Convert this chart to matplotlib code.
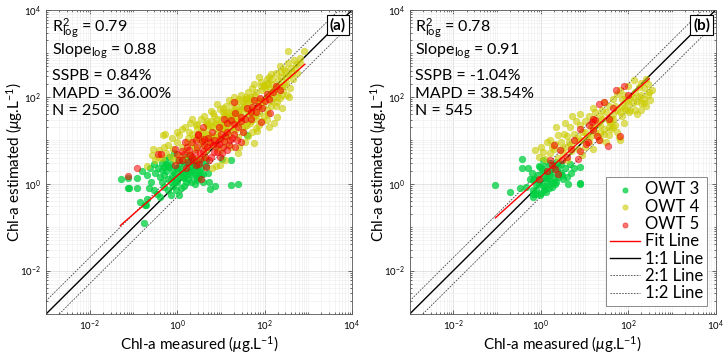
import numpy as np
import matplotlib
matplotlib.use("Agg")
import matplotlib.pyplot as plt
from matplotlib.ticker import LogLocator, FixedLocator, NullFormatter

plt.rcParams['font.family'] = ['Lato', 'DejaVu Sans']
plt.rcParams['mathtext.fontset'] = 'custom'
plt.rcParams['mathtext.rm'] = 'Lato'
plt.rcParams['mathtext.it'] = 'Lato:italic'
plt.rcParams['mathtext.bf'] = 'Lato:bold'

# ---- data, log10 of measured / estimated Chl-a ----
# panel (a)
owt3_a_x = [-1.29, -1.13, -1.135, -0.92, -0.93, -1.11, -0.84, -0.69, -0.73, -0.75, -0.71,
            0.72, 0.76, 0.87, 1.24, 1.40, 1.24, 1.03, 1.60,
            -0.54, -0.35, -0.51, -0.40, -0.54, -0.46, -0.31,
            -0.25, -0.20, -0.15, -0.10, -0.05, 0.00, 0.05, 0.10, 0.15, 0.20, 0.25, 0.30, 0.35, 0.40,
            0.45, 0.50, 0.55, 0.60, -0.22, -0.12, -0.02, 0.08, 0.12, 0.18, 0.28, 0.32, 0.38,
            -0.28, -0.18, -0.08, 0.02, 0.22, 0.42, -0.35, -0.30, -0.15, 0.05, -0.40, -0.60, -0.65,
            -0.70, -0.80, -0.62, -0.45, 0.48, 0.65, 0.70,
            -0.05, 0.10, 0.25, 0.40, 0.55, -0.18, 0.00, 0.15, 0.30, 0.45, 0.35, 0.20, -0.30,
            -0.20, -0.10, 0.00, 0.10, 0.20, 0.30, 0.40, 0.50, -0.05, 0.15, 0.25, 0.35, 0.05,
            -0.15, 0.45, 0.60, 0.55, 0.65, -0.25, -0.35]
owt3_a_y = [0.11, 0.12, -0.09, -0.11, 0.13, -0.10, -0.42, -0.36, -0.49, -0.91, -0.50,
            0.03, -0.12, -0.06, -0.04, -0.01, 0.54, 0.56, 1.12,
            0.45, 0.47, 0.25, 0.16, -0.15, -0.23, -0.07,
            0.30, 0.10, 0.45, -0.05, 0.25, 0.05, 0.40, 0.15, -0.05, 0.30, 0.10, 0.45, 0.20, 0.00,
            0.30, 0.15, 0.35, 0.22, -0.15, 0.18, -0.15, -0.10, 0.55, 0.20, 0.62, 0.05, 0.38,
            0.55, 0.62, 0.70, 0.55, 0.48, 0.55, 0.05, 0.20, -0.25, -0.25, -0.30, 0.05, -0.10,
            0.20, 0.30, 0.35, 0.35, 0.48, 0.40, 0.25,
            0.05, 0.30, 0.22, 0.42, 0.20, 0.38, 0.35, 0.12, 0.32, 0.08, 0.58, 0.62, 0.38,
            0.40, 0.30, 0.35, 0.25, 0.05, 0.30, 0.22, 0.30, 0.12, 0.45, 0.55, 0.45, 0.18,
            0.05, 0.12, 0.05, 0.50, 0.55, 0.45, 0.32]

owt4_a_x = [-0.69, -0.58, -0.50, -0.45, -0.35, -0.25, -0.15, -0.05, 0.05, 0.15, 0.30, 0.45, 0.62,
            0.80, 0.88, 0.99, 1.10, 1.38,
            -0.55, -0.42, -0.31, -0.20, -0.10, 0.00, 0.10, 0.20, 0.32, 0.42, 0.55, 0.65, 0.75, 0.88,
            0.98, 1.10, 1.22, 1.41, 1.55, 1.75,
            -0.32, -0.27, -0.12, 0.00, 0.04, 0.12, 0.19, 0.25, 0.35, 0.45, 0.52, 0.60, 0.70, 0.78,
            0.90, 1.00, 1.08, 1.18, 1.28, 1.38, 1.50, 1.62, 1.72, 1.83, 1.80, 2.09,
            0.35, 0.45, 0.55, 0.61, 0.68, 0.77, 0.85, 0.92, 1.00, 1.08, 1.15, 1.25, 1.35, 1.42,
            1.52, 1.60, 1.70, 1.78, 1.87, 1.95, 2.06, 2.22, 2.29, 1.65,
            0.77, 0.92, 0.98, 1.05, 1.12, 1.19, 1.25, 1.35, 1.45, 1.52, 1.60, 1.70, 1.78, 1.88,
            1.95, 2.05, 2.15, 2.29, 2.40, 1.40,
            1.30, 1.45, 1.55, 1.62, 1.70, 1.80, 1.88, 1.95, 2.05, 2.12, 2.20, 2.30, 2.40, 2.52,
            2.56, 2.00, 1.72,
            1.75, 1.87, 1.91, 1.98, 2.05, 2.14, 2.18, 2.25, 2.30, 2.37, 2.44, 2.48, 2.10, 2.40,
            2.45, 2.53, 2.60, 2.67, 2.72, 2.53, 2.89, 2.80, 2.35,
            0.62, 0.72, 0.82, 0.95, 1.05, 1.15, 1.28, 1.40, 1.48, 1.58, 1.68, 1.85, 1.98, 2.08,
            2.18, 2.28, 0.40, 0.50, 0.65, 0.85, 1.20, 1.32, 1.02, 1.12,
            0.22, 0.28, 0.38, 0.48, 0.42, 0.30,
            0.55, 0.62, 0.68, 0.72, 0.78, 0.82, 0.88, 0.92, 0.96, 0.58, 0.66, 0.86,
            1.02, 1.05, 1.10, 1.14, 1.18, 1.22, 1.26, 1.30, 1.34, 1.38, 1.42, 1.46, 1.48, 1.12,
            1.24, 1.36,
            1.52, 1.55, 1.58, 1.62, 1.66, 1.68, 1.72, 1.76, 1.80, 1.84, 1.88, 1.92, 1.96, 1.98,
            1.58, 1.74,
            2.02, 2.05, 2.08, 2.12, 2.15, 2.18, 2.22, 2.25, 2.28, 2.32, 2.35, 2.38, 2.42, 2.46,
            2.50, 2.55, 2.58, 2.62, 2.66, 2.70, 2.75, 2.82]
owt4_a_y = [0.41, 0.66, 0.55, 0.62, 0.60, 0.70, 0.62, 0.55, 0.66, 0.60, 0.68, 0.58, 0.62,
            0.35, 0.40, 0.43, 0.55, 0.70,
            0.80, 0.78, 0.85, 0.90, 0.80, 0.95, 0.85, 0.78, 0.92, 0.80, 0.95, 0.78, 0.90, 0.85,
            0.78, 0.92, 0.85, 0.85, 0.95, 0.94,
            1.11, 1.15, 1.05, 1.20, 1.11, 1.25, 1.30, 1.05, 1.15, 1.25, 1.05, 1.18, 1.28, 1.10,
            1.20, 1.05, 1.25, 1.12, 1.22, 1.08, 1.18, 1.10, 1.19, 1.21, 1.28, 1.31,
            1.50, 1.38, 1.48, 1.57, 1.35, 1.45, 1.55, 1.38, 1.48, 1.58, 1.35, 1.45, 1.55, 1.40,
            1.50, 1.35, 1.45, 1.55, 1.36, 1.45, 1.46, 1.39, 1.54, 1.58,
            1.67, 1.83, 1.72, 1.65, 1.80, 1.92, 1.70, 1.78, 1.68, 1.85, 1.72, 1.82, 1.65, 1.75,
            1.88, 1.70, 1.80, 1.88, 1.75, 1.90,
            2.00, 2.05, 1.95, 2.12, 2.00, 2.10, 1.95, 2.15, 2.02, 2.18, 1.98, 2.10, 2.05, 2.04,
            2.00, 2.20, 2.20,
            2.30, 2.46, 2.34, 2.25, 2.40, 2.53, 2.30, 2.55, 2.38, 2.57, 2.30, 2.45, 2.45, 2.25,
            2.65, 2.78, 2.67, 2.85, 2.75, 3.05, 3.05, 2.90, 2.70,
            1.02, 1.12, 1.30, 1.10, 1.35, 1.55, 1.60, 1.62, 1.78, 1.95, 1.95, 1.90, 2.28, 2.30,
            2.12, 2.22, 0.85, 1.02, 1.40, 1.05, 1.48, 1.72, 1.28, 1.62,
            0.95, 1.18, 1.05, 1.12, 1.35, 1.40,
            1.22, 1.05, 1.45, 0.95, 1.32, 1.62, 1.08, 1.50, 1.25, 0.88, 1.15, 1.40,
            1.35, 1.75, 1.42, 1.05, 1.65, 1.30, 1.85, 1.52, 1.25, 1.68, 1.95, 1.55, 1.30, 1.22,
            1.55, 1.42,
            1.75, 1.32, 2.00, 1.62, 1.40, 1.90, 1.70, 2.05, 1.50, 1.88, 1.62, 2.25, 1.78, 1.55,
            1.88, 1.58,
            1.92, 2.30, 1.60, 2.05, 1.90, 2.42, 2.15, 1.80, 2.00, 2.25, 1.98, 2.45, 2.15, 2.60,
            2.35, 2.50, 2.20, 2.55, 2.40, 2.65, 2.55, 2.78]

owt5_a_x = [-1.13, -0.93, -0.44, -0.36, 0.55, -0.05, 0.11, 0.15, 0.23, 0.30, 0.42, 0.46, 0.47,
            0.53, 0.61, 0.65, 0.72, 0.84, 0.84, 0.99, 0.99, 1.14, 1.14, 1.30, 1.33, 1.45, -0.04,
            1.31, 1.76, 1.90, 2.06, 2.25, 2.12, 1.70, 1.33, 1.22, 1.15, 1.07, 1.30, 1.00, 0.58,
            0.47, 1.91, 0.70, 0.80, 0.90, 1.05, 1.20, 0.35, 0.40, 0.25, 0.60, 0.75, 1.40, 1.55,
            1.60, 1.45, 1.85, 2.00, 0.95, 1.10, 0.20, 1.45, 1.72, 0.00,
            0.10, 0.18, 0.28, 0.36, 0.44, 0.52, 0.56, 0.64, 0.68, 0.78, 0.82, 0.92, 0.96, 1.02,
            1.08, 1.18, 1.25, 1.36, 0.50, 0.34, 0.05, 0.62, 1.50, 1.68, 1.80, 1.95, 2.10, 2.20,
            2.35]
owt5_a_y = [0.18, 0.35, 0.68, 0.68, 0.10, 0.43, 0.54, 0.69, 0.85, 0.65, 0.43, 0.85, 1.14,
            0.58, 0.88, 0.39, 0.54, 0.73, 1.00, 0.62, 1.04, 0.77, 1.19, 1.15, 0.85, 0.96, 0.81,
            1.87, 1.92, 1.98, 2.07, 2.26, 1.63, 1.64, 1.62, 1.46, 1.39, 1.50, 1.37, 1.15, 1.31,
            1.13, 1.41, 1.05, 1.20, 0.90, 0.85, 1.00, 0.95, 0.70, 0.50, 0.75, 0.95, 1.30, 1.50,
            1.75, 1.45, 1.80, 1.90, 1.30, 1.10, 0.35, 1.54, 1.77, 0.69,
            0.75, 0.95, 0.78, 0.55, 1.00, 0.70, 0.98, 0.62, 0.85, 0.62, 0.88, 0.72, 0.92, 0.70,
            0.98, 0.88, 1.05, 1.00, 0.45, 0.62, 0.55, 1.02, 1.20, 1.50, 1.65, 1.75, 1.95, 2.10,
            2.15]

# panel (b)
owt3_b_x = [-1.04, -0.71, -0.48, -0.33, -0.18, -0.10, 0.00, -0.18, 0.10, 0.21, 0.32, 0.89,
            -0.43, -0.30, -0.19, -0.17, -0.03, -0.11, 0.14, 0.40, 0.60, 0.63, 0.67, 0.90, 0.89,
            -0.03, 0.26, -0.44, 0.00, 0.05, 0.10, 0.15, 0.20, 0.25, 0.30, 0.35, 0.45, 0.50, 0.55,
            -0.08, -0.12, 0.08, 0.18, 0.40, 0.45, 0.35, 0.05, -0.20, -0.25, 0.70, 0.75, 0.20, -0.05,
            -0.05, 0.05, 0.12, 0.22, 0.28, 0.38, 0.48, 0.02, -0.15, 0.12, 0.30, 0.15]
owt3_b_y = [-0.03, -0.20, -0.09, -0.07, -0.14, -0.24, -0.22, -0.30, -0.05, 0.07, -0.01, -0.01,
            0.56, 0.35, 0.08, -0.23, -0.26, -0.15, 0.16, 0.39, 0.16, 0.00, 0.46, 0.39, 0.02,
            0.39, -0.07, 0.35, 0.10, 0.25, 0.40, 0.05, 0.20, 0.35, 0.15, 0.05, 0.25, 0.10, 0.35,
            0.20, 0.00, -0.15, -0.10, 0.15, 0.45, 0.50, 0.55, 0.25, 0.10, 0.25, 0.35, 0.48, 0.40,
            0.00, -0.05, 0.12, 0.28, 0.05, 0.30, 0.20, 0.32, 0.10, -0.20, 0.42, 0.28]

owt4_b_x = [2.12, 2.24, 2.47, 2.50, 2.35, 2.16, 2.01, 1.82, 1.74, 1.44, 1.36, 1.21, 1.66, 1.59,
            1.82, 1.78, 1.55, 1.36, 0.90, 0.71, 0.67, 0.52, 0.40, 0.33, 0.14, -0.13, 0.06, 0.10,
            0.60, 0.80, 0.95, 1.05, 1.15, 1.25, 1.35, 1.45, 1.55, 1.65, 1.75, 1.85, 1.95, 2.05,
            2.15, 2.25, 2.35, 2.45, 2.40, 2.28, 2.10, 1.95, 1.85, 1.70, 1.60, 1.45, 1.30, 1.10,
            1.00, 0.85, 0.70, 0.55, 0.45, 0.30, 0.20, 0.50, 0.65, 0.75, 0.90, 1.00, 1.10, 1.25,
            1.40, 1.55, 1.65, 1.90, 2.00, 0.35, 0.55, 0.80, 1.20, 2.20, 2.30, 1.90, 1.75, 1.50,
            1.20, 0.95, -0.05, 0.20, 0.40, 0.00, 2.41, 2.29,
            1.00, 1.15, 1.30, 1.40, 1.50, 1.60, 1.70, 1.80, 1.90, 2.00, 2.10, 2.20, 2.30, 2.05,
            1.85, 1.55, 1.35, 1.20, 0.85, 0.60, 0.45, 0.25, 0.70, 0.95, 1.65, 2.35, 2.45, 2.55]
owt4_b_y = [2.38, 2.23, 2.11, 1.92, 1.96, 1.69, 1.65, 2.15, 2.07, 1.88, 1.57, 1.49, 1.49, 1.42,
            1.00, 1.07, 1.11, 1.00, 1.61, 1.57, 1.30, 1.15, 1.11, 0.92, 0.96, 0.77, 0.73, 0.58,
            0.54, 1.00, 1.20, 1.10, 1.30, 1.20, 1.35, 1.25, 1.45, 1.60, 1.70, 1.80, 1.90, 2.00,
            2.10, 2.00, 2.20, 2.30, 1.80, 1.85, 1.85, 1.70, 1.55, 1.35, 1.25, 1.15, 1.10, 0.95,
            0.85, 0.80, 0.75, 0.85, 0.95, 0.80, 0.70, 0.70, 0.95, 1.15, 1.35, 1.45, 1.55, 1.65,
            1.70, 1.80, 1.95, 2.05, 2.25, 1.30, 1.40, 1.45, 1.75, 1.60, 1.70, 1.40, 1.20, 0.95,
            0.80, 0.65, 0.62, 1.00, 0.60, 0.85, 2.42, 2.31,
            1.20, 1.10, 1.40, 1.50, 1.65, 1.50, 1.80, 1.65, 1.75, 1.85, 2.00, 1.90, 2.05, 1.70,
            1.95, 1.30, 1.20, 1.30, 1.05, 1.10, 0.80, 0.85, 0.90, 1.00, 1.30, 1.85, 2.05, 2.15]

owt5_b_x = [1.91, 1.32, 1.44, 1.25, 1.17, 1.10, 1.19, 1.32, 1.28, 1.08, 1.04, 0.70, 0.44, 0.29,
            0.86, 0.48, 0.25, 0.32, 0.40, 1.81, 0.90, 1.55, 1.65, 2.00, 0.60, 0.15, -0.05, 0.75,
            0.20, 1.20, 0.89, 1.54, 1.73]
owt5_b_y = [2.26, 1.84, 1.88, 1.46, 1.42, 1.34, 1.23, 1.00, 1.10, 0.96, 0.92, 0.81, 0.78, 0.88,
            0.58, 0.54, 0.43, 0.33, 0.23, 1.09, 0.75, 1.50, 1.75, 2.05, 0.62, 0.30, 0.10, 1.00,
            0.55, 1.50, 1.27, 0.86, 2.16]

# fit lines (log space): slope, intercept, x range
fit_a = (0.88, 0.18, -1.30, 2.92)
fit_b = (0.91, 0.16, -1.04, 2.48)

stats_a = ['0.79', '0.88', '0.84%', '36.00%', '2500']
stats_b = ['0.78', '0.91', '-1.04%', '38.54%', '545']

c_green = '#00d040'
c_yellow = '#cccc00'
c_red = '#ff0000'


def draw_panel(ax, g, y, r, fit, stats, tag, legend=False):
    lo, hi = 1e-3, 1e4
    ax.scatter(10**np.array(g[0]), 10**np.array(g[1]), s=22, color=c_green, alpha=0.75,
               edgecolors=c_green, linewidths=0.5, label='OWT 3', zorder=3)
    ax.scatter(10**np.array(y[0]), 10**np.array(y[1]), s=22, color=c_yellow, alpha=0.6,
               edgecolors=c_yellow, linewidths=0.5, label='OWT 4', zorder=3)
    ax.scatter(10**np.array(r[0]), 10**np.array(r[1]), s=22, color=c_red, alpha=0.55,
               edgecolors='#dd0000', linewidths=0.5, label='OWT 5', zorder=3)
    k, b, x0, x1 = fit
    fx = np.array([x0, x1])
    ax.plot(10**fx, 10**(k * fx + b), color='red', lw=1.0, label='Fit Line', zorder=4)
    ax.plot([lo, hi], [lo, hi], color='black', lw=1.0, label='1:1 Line', zorder=2)
    ax.plot([lo, hi / 2], [2 * lo, hi], color='#444444', lw=0.6, ls=(0, (2, 1.5)),
            label='2:1 Line', zorder=2)
    ax.plot([2 * lo, hi], [lo, hi / 2], color='#444444', lw=0.6, ls=(0, (2, 1.5)),
            label='1:2 Line', zorder=2)

    ax.set_xscale('log')
    ax.set_yscale('log')
    ax.set_xlim(lo, hi)
    ax.set_ylim(lo, hi)
    major = [1e-2, 1e0, 1e2, 1e4]
    for axis in (ax.xaxis, ax.yaxis):
        axis.set_major_locator(FixedLocator(major))
        axis.set_minor_locator(LogLocator(base=10, subs=np.arange(1, 10), numticks=20))
        axis.set_minor_formatter(NullFormatter())
    ax.tick_params(which='both', direction='in', top=True, right=True, labelsize=7,
                   width=0.5, color='#333333')
    ax.tick_params(which='major', length=3)
    ax.tick_params(which='minor', length=1.5)
    ax.grid(True, which='major', color='#d8d8d8', lw=0.5)
    ax.grid(True, which='minor', color='#ececec', lw=0.4)
    ax.set_axisbelow(True)
    for sp in ax.spines.values():
        sp.set_linewidth(0.6)
        sp.set_color('#555555')

    ax.set_xlabel(r'Chl-a measured ($\mu$g.L$^{-1}$)', fontsize=11)
    ax.xaxis.set_label_coords(0.5, -0.066)
    ax.set_ylabel(r'Chl-a estimated ($\mu$g.L$^{-1}$)', fontsize=11)
    ax.yaxis.set_label_coords(-0.068, 0.5)

    lines = [r'R$^2_{\rm log}$ = ' + stats[0],
             r'Slope$_{\rm log}$ = ' + stats[1],
             'SSPB = ' + stats[2],
             'MAPD = ' + stats[3],
             'N = ' + stats[4]]
    ys = [0.929, 0.852, 0.770, 0.710, 0.655]
    for t, yy in zip(lines, ys):
        ax.text(0.019, yy, t, transform=ax.transAxes, fontsize=11.5, va='baseline', zorder=6)

    ax.text(0.954, 0.951, tag, transform=ax.transAxes, fontsize=11, fontweight='bold',
            ha='center', va='center', zorder=6,
            bbox=dict(boxstyle='square,pad=0.2', facecolor='white', edgecolor='black', lw=0.8))

    if legend:
        leg = ax.legend(loc='lower right', fontsize=12, fancybox=False, framealpha=1,
                        edgecolor='#777777', markerscale=0.8, handlelength=1.8,
                        handletextpad=0.3, labelspacing=0.08, borderpad=0.25,
                        borderaxespad=0.5)
        leg.get_frame().set_linewidth(0.6)
        leg.set_zorder(7)


fig = plt.figure(figsize=(7.26, 3.56), dpi=100)
ax1 = fig.add_axes([0.0634, 0.118, 0.4215, 0.854])
ax2 = fig.add_axes([0.5643, 0.118, 0.4215, 0.854])

draw_panel(ax1, (owt3_a_x, owt3_a_y), (owt4_a_x, owt4_a_y), (owt5_a_x, owt5_a_y),
           fit_a, stats_a, '(a)')
draw_panel(ax2, (owt3_b_x, owt3_b_y), (owt4_b_x, owt4_b_y), (owt5_b_x, owt5_b_y),
           fit_b, stats_b, '(b)', legend=True)

fig.savefig('out.png', dpi=100)
